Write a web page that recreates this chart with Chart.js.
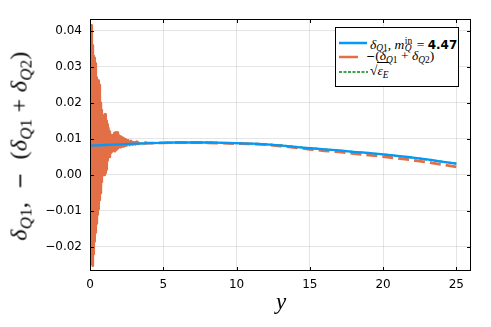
<!DOCTYPE html>
<html>
<head>
<meta charset="utf-8">
<script src="https://cdn.jsdelivr.net/npm/chart.js@4"></script>
<style>
  body { margin: 0; background: #fff; }
  #wrap { position: relative; width: 491px; height: 327px; }
  .m { font-family: "Liberation Serif", "DejaVu Serif", serif; font-style: italic; }
  .r { font-family: "Liberation Serif", "DejaVu Serif", serif; font-style: normal; }
  .mn { font-family: "DejaVu Sans", sans-serif; font-style: normal; }
  #ytitle {
    position: absolute; left: 19px; top: 146px; white-space: nowrap;
    transform: translate(-50%, -50%) rotate(-90deg);
    font-size: 24px; color: #000; letter-spacing: 0.3px;
  }
  #xtitle { position: absolute; left: 281px; top: 289px; font-size: 23px; transform: translateX(-50%); }
  sub { font-size: 70%; vertical-align: -0.3em; line-height: 0; }
  #legend {
    position: absolute; left: 335px; top: 27px; width: 124px; height: 60px;
    border: 1px solid #000; background: #fff; box-sizing: border-box;
  }
  .row { position: absolute; left: 2px; width: 118px; height: 14px; white-space: nowrap; font-size: 13.5px; line-height: 14px; }
  .row svg { position: absolute; left: 0; top: 3px; }
  .row .t { position: absolute; left: 32px; top: -1px; }
  .num { font-family: "DejaVu Sans", sans-serif; font-style: normal; font-size: 12px; font-weight: bold; }
  .stack { position: relative; display: inline-block; width: 9px; height: 1em; }
  .stack span { position: absolute; left: 0.5px; font-size: 70%; line-height: 1; }
</style>
</head>
<body>
<div id="wrap">
  <canvas id="chart" width="491" height="327"></canvas>
  <div id="ytitle"><span class="m">δ</span><sub><span class="m">Q</span><span class="r">1</span></sub><span class="r">,&nbsp; </span><span class="mn" style="font-size:20px">−</span><span class="r"> &nbsp;(</span><span class="m">δ</span><sub><span class="m">Q</span><span class="r">1</span></sub><span class="r">&nbsp;+&nbsp;</span><span class="m">δ</span><sub><span class="m">Q</span><span class="r">2</span></sub><span class="r">)</span></div>
  <div id="xtitle" class="m">y</div>
  <div id="legend">
    <div class="row" style="top:8px">
      <svg width="30" height="8"><line x1="1" y1="4" x2="29" y2="4" stroke="#009AFA" stroke-width="2.5"/></svg>
      <span class="t"><span class="m">δ</span><sub><span class="m">Q</span><span class="r">1</span></sub><span class="r">, </span><span class="m">m</span><span class="stack"><span class="r" style="top:2px">in</span><span class="m" style="top:9px">Q</span></span><span class="r"> = </span><span class="num">4.47</span></span>
    </div>
    <div class="row" style="top:22px">
      <svg width="30" height="8"><line x1="1" y1="4" x2="20" y2="4" stroke="#E26F46" stroke-width="2.5"/></svg>
      <span class="t" style="left:28px"><span class="mn" style="font-size:11px">−</span><span class="r">(</span><span class="m">δ</span><sub><span class="m">Q</span><span class="r">1</span></sub><span class="r"> + </span><span class="m">δ</span><sub><span class="m">Q</span><span class="r">2</span></sub><span class="r">)</span></span>
    </div>
    <div class="row" style="top:37px">
      <svg width="30" height="8"><line x1="1" y1="4" x2="30" y2="4" stroke="#3DA44D" stroke-width="2" stroke-dasharray="3 1.5"/></svg>
      <span class="t"><span class="r">√</span><span style="border-top:1px solid #000;"><span class="m">ε</span><sub><span class="m">E</span></sub></span></span>
    </div>
  </div>
</div>
<script>
// y values (horizontal axis)
const yGrid = [0, 1, 2, 3, 4, 5, 6, 7, 8, 9, 10, 11, 12, 13, 14, 15, 16, 17, 18, 19, 20, 21, 22, 23, 24, 25];
const deltaQ1 = [0.0081, 0.0083, 0.0085, 0.0087, 0.0088, 0.0089, 0.0090, 0.0090, 0.0090, 0.0089, 0.0088,
  0.0087, 0.0085, 0.0082, 0.0078, 0.0074, 0.0071, 0.0068, 0.0064, 0.0061, 0.0057, 0.0053, 0.0048, 0.0043, 0.0037, 0.0031];
const sqrtEpsE = [0.0081, 0.0083, 0.0085, 0.0087, 0.0088, 0.0089, 0.0090, 0.0090, 0.0090, 0.0089, 0.0088,
  0.0087, 0.0085, 0.0082, 0.0078, 0.0074, 0.0071, 0.0067, 0.0064, 0.0060, 0.0057, 0.0052, 0.0048, 0.0042, 0.0037, 0.0031];

// -(dQ1 + dQ2): fast oscillation near y = 0, then smooth
const ySum = [0.000, 0.025, 0.050, 0.075, 0.100, 0.125, 0.150, 0.175, 0.200, 0.225, 0.250, 0.275, 0.300,
  0.325, 0.350, 0.375, 0.400, 0.425, 0.450, 0.475, 0.500, 0.525, 0.550, 0.575, 0.600, 0.625, 0.650, 0.675,
  0.700, 0.725, 0.750, 0.775, 0.800, 0.825, 0.850, 0.875, 0.900, 0.925, 0.950, 0.975, 1.000, 1.025, 1.050,
  1.075, 1.100, 1.125, 1.150, 1.175, 1.200, 1.250, 1.300, 1.350, 1.400, 1.450, 1.500, 1.550, 1.600, 1.650,
  1.700, 1.750, 1.800, 1.850, 1.900, 1.950, 2.000, 2.050, 2.100, 2.150, 2.200, 2.250, 2.300, 2.350, 2.400,
  2.450, 2.500, 2.600, 2.700, 2.800, 2.900, 3.000, 3.100, 3.200, 3.300, 3.400, 3.500, 3.600, 3.700, 3.800,
  3.900, 4.000,
  5, 6, 7, 8, 9, 10, 11, 12, 13, 14, 15, 16, 17, 18, 19, 20, 21, 22, 23, 24, 25];
const negSum = [0.0080, 0.0300, -0.0120, 0.0415, -0.0200, 0.0400, -0.0245, 0.0360, -0.0252, 0.0330, -0.0220,
  0.0300, -0.0185, 0.0325, -0.0160, 0.0310, -0.0150, 0.0270, -0.0135, 0.0230, -0.0110, 0.0250, -0.0095,
  0.0262, -0.0080, 0.0250, -0.0070, 0.0230, -0.0050, 0.0200, -0.0030, 0.0180, -0.0020, 0.0160, 0.0000,
  0.0150, 0.0010, 0.0160, 0.0005, 0.0165, 0.0000, 0.0168, 0.0005, 0.0160, 0.0015, 0.0150, 0.0030, 0.0140,
  0.0040, 0.0130, 0.0050, 0.0120, 0.0060, 0.0110, 0.0065, 0.0105, 0.0068, 0.0115, 0.0066, 0.0118, 0.0070,
  0.0117, 0.0074, 0.0110, 0.0077, 0.0106, 0.0077, 0.0104, 0.0079, 0.0103, 0.0079, 0.0100, 0.0081, 0.0098,
  0.0082, 0.0096, 0.0083, 0.0094, 0.0084, 0.0093, 0.0085, 0.0092, 0.0086, 0.0091, 0.0087, 0.0090, 0.0087,
  0.0090, 0.0088, 0.0088,
  0.0089, 0.0090, 0.0090, 0.0089, 0.0088, 0.0087, 0.0086, 0.0084, 0.0080, 0.0076, 0.0071, 0.0067, 0.0064,
  0.0059, 0.0055, 0.0051, 0.0046, 0.0041, 0.0035, 0.0029, 0.0022];

const xTicks = [0, 5, 10, 15, 20, 25];
const yTicks = [-0.02, -0.01, 0.00, 0.01, 0.02, 0.03, 0.04];

const toPts = (xs, ys) => xs.map((x, i) => ({ x: x, y: ys[i] }));

const frame = {
  id: 'frame',
  afterDraw(chart) {
    const { ctx, chartArea: a, scales: { x, y } } = chart;
    ctx.save();
    ctx.strokeStyle = '#000';
    ctx.lineWidth = 1;
    ctx.strokeRect(a.left + 0.5, a.top + 0.5, a.right - a.left - 1, a.bottom - a.top - 1);
    ctx.beginPath();
    xTicks.forEach(v => {
      const px = Math.round(x.getPixelForValue(v)) + 0.5;
      ctx.moveTo(px, a.bottom); ctx.lineTo(px, a.bottom - 4);
      ctx.moveTo(px, a.top); ctx.lineTo(px, a.top + 4);
    });
    yTicks.forEach(v => {
      const py = Math.round(y.getPixelForValue(v)) + 0.5;
      ctx.moveTo(a.left, py); ctx.lineTo(a.left + 4, py);
      ctx.moveTo(a.right, py); ctx.lineTo(a.right - 4, py);
    });
    ctx.stroke();
    ctx.restore();
  }
};

const ctx = document.getElementById('chart').getContext('2d');
new Chart(ctx, {
  type: 'line',
  data: {
    datasets: [
      {
        data: toPts(yGrid, deltaQ1),
        borderColor: '#009AFA',
        borderWidth: 2.3,
        pointRadius: 0,
        cubicInterpolationMode: 'monotone'
      },
      {
        data: toPts(ySum, negSum),
        borderColor: '#E26F46',
        borderWidth: 2.8,
        borderJoinStyle: 'round',
        pointRadius: 0,
        tension: 0,
        segment: {
          borderDash: c => c.p0.parsed.x >= 3 ? [11, 5] : []
        }
      },
      {
        data: toPts(yGrid, sqrtEpsE),
        borderColor: '#3DA44D',
        borderWidth: 2,
        borderDash: [3, 2],
        pointRadius: 0,
        cubicInterpolationMode: 'monotone'
      }
    ]
  },
  options: {
    responsive: false,
    animation: false,
    layout: { padding: { top: 19, right: 20, left: 0, bottom: 0 } },
    plugins: { legend: { display: false }, tooltip: { enabled: false } },
    scales: {
      x: {
        type: 'linear',
        min: 0,
        max: 26,
        afterFit: s => { s.height = 56; },
        afterBuildTicks: s => { s.ticks = xTicks.map(v => ({ value: v })); },
        grid: { color: 'rgba(0,0,0,0.1)', drawTicks: false },
        border: { display: false },
        ticks: {
          padding: 7,
          color: '#000',
          font: { family: 'DejaVu Sans', size: 12 },
          maxRotation: 0
        }
      },
      y: {
        min: -0.0267,
        max: 0.0433,
        afterFit: s => { s.width = 90; },
        afterBuildTicks: s => { s.ticks = yTicks.map(v => ({ value: v })); },
        grid: { color: 'rgba(0,0,0,0.1)', drawTicks: false },
        border: { display: false },
        ticks: {
          padding: 8,
          color: '#000',
          font: { family: 'DejaVu Sans', size: 12 },
          callback: v => (v < 0 ? '\u2212' : '') + Math.abs(v).toFixed(2)
        }
      }
    }
  },
  plugins: [frame]
});
</script>
</body>
</html>
